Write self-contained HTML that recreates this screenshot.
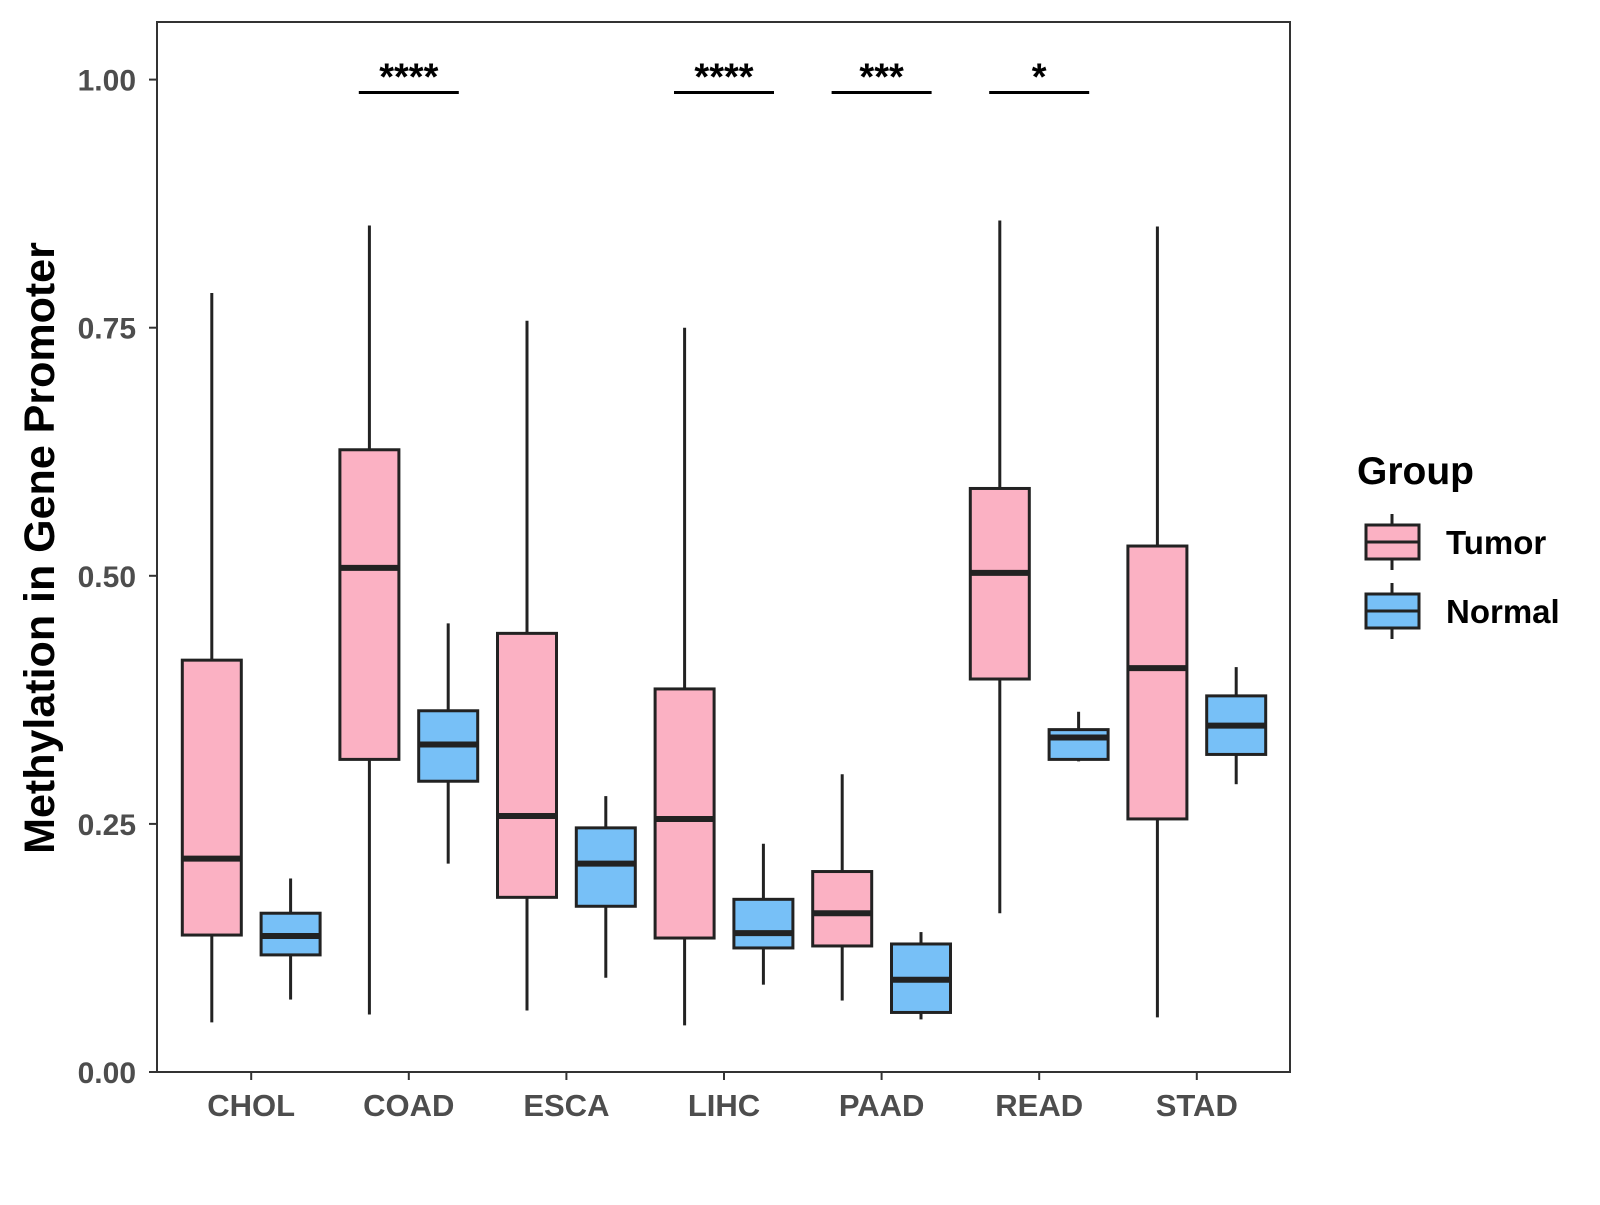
<!DOCTYPE html>
<html><head><meta charset="utf-8"><style>
body{margin:0;background:#fff}
svg text{font-family:"Liberation Sans",Arial,sans-serif;font-weight:bold}
</style></head><body>
<svg id="chart" width="1600" height="1200" xmlns="http://www.w3.org/2000/svg"></svg>
<script>
const categories=["CHOL","COAD","ESCA","LIHC","PAAD","READ","STAD"];
const tumorMin=[0.05,0.058,0.062,0.047,0.072,0.16,0.055];
const tumorQ1=[0.138,0.315,0.176,0.135,0.127,0.396,0.255];
const tumorMed=[0.215,0.508,0.258,0.255,0.16,0.503,0.407];
const tumorQ3=[0.415,0.627,0.442,0.386,0.202,0.588,0.53];
const tumorMax=[0.785,0.853,0.757,0.75,0.3,0.858,0.852];
const normalMin=[0.073,0.21,0.095,0.088,0.053,0.313,0.29];
const normalQ1=[0.118,0.293,0.167,0.125,0.06,0.315,0.32];
const normalMed=[0.137,0.33,0.21,0.14,0.093,0.337,0.349];
const normalQ3=[0.16,0.364,0.246,0.174,0.129,0.345,0.379];
const normalMax=[0.195,0.452,0.278,0.23,0.141,0.363,0.408];
const sigLabels=["","****","","****","***","*",""];
const yTicks=[0,0.25,0.5,0.75,1.0];
const yTickLabels=["0.00","0.25","0.50","0.75","1.00"];

const svg=document.getElementById('chart');
const NS="http://www.w3.org/2000/svg";
const L=157,R=1290,T=22,B=1072;
const y=v=>1072-v*992.4;
const x=i=>251.2+i*157.6;
const off=39.4,bw=59;
function mk(tag,attrs,text){const e=document.createElementNS(NS,tag);for(const k in attrs)e.setAttribute(k,attrs[k]);if(text!==undefined)e.textContent=text;svg.appendChild(e);return e;}

let e=mk('rect',{x:L,y:T,width:R-L,height:B-T,fill:'#fff',stroke:'#333','stroke-width':2});



yTicks.forEach((v,i)=>{
  let t=mk('line',{x1:L-8,x2:L,y1:y(v),y2:y(v),stroke:'#333','stroke-width':2});
  
  
  let l=mk('text',{x:L-21,y:y(v)+11,'text-anchor':'end','font-size':30,fill:'#4d4d4d'},yTickLabels[i]);
  
  
});
categories.forEach((c,i)=>{
  let t=mk('line',{x1:x(i),x2:x(i),y1:B,y2:B+8,stroke:'#333','stroke-width':2});
  
  
  let l=mk('text',{x:x(i),y:B+44,'text-anchor':'middle','font-size':31,fill:'#4d4d4d'},c);
  
  
});
function box(cx,mn,q1,md,q3,mx,fill,name){
  let w1=mk('line',{x1:cx,x2:cx,y1:y(mn),y2:y(q1),stroke:'#222','stroke-width':3});
  
  
  let w2=mk('line',{x1:cx,x2:cx,y1:y(q3),y2:y(mx),stroke:'#222','stroke-width':3});
  
  
  let r=mk('rect',{x:cx-bw/2,y:y(q3),width:bw,height:y(q1)-y(q3),fill:fill,stroke:'#222','stroke-width':3});
  
  
  let m=mk('line',{x1:cx-bw/2,x2:cx+bw/2,y1:y(md),y2:y(md),stroke:'#222','stroke-width':6});
  
  
}
categories.forEach((c,i)=>{
  box(x(i)-off,tumorMin[i],tumorQ1[i],tumorMed[i],tumorQ3[i],tumorMax[i],'#fbb1c3','tumor-'+c.toLowerCase());
  box(x(i)+off,normalMin[i],normalQ1[i],normalMed[i],normalQ3[i],normalMax[i],'#77c0f7','normal-'+c.toLowerCase());
  if(sigLabels[i]){
    let b=mk('line',{x1:x(i)-50,x2:x(i)+50,y1:y(0.987),y2:y(0.987),stroke:'#000','stroke-width':3});
    
    
    let s=mk('text',{x:x(i),y:y(0.987)-3,'text-anchor':'middle','font-size':38,fill:'#000'},sigLabels[i]);
    
    
  }
});
let yt=mk('text',{x:0,y:0,transform:'translate(54,548) rotate(-90)','text-anchor':'middle','font-size':43,fill:'#000'},'Methylation in Gene Promoter');


let lt=mk('text',{x:1357,y:484,'font-size':39,fill:'#000'},'Group');


[['Tumor','#fbb1c3',542],['Normal','#77c0f7',611]].forEach(([n,f,cy])=>{
  let g1=mk('line',{x1:1392,x2:1392,y1:cy-28,y2:cy+28,stroke:'#222','stroke-width':3});
  
  
  let r=mk('rect',{x:1366,y:cy-17,width:53,height:34,fill:f,stroke:'#222','stroke-width':3});
  
  
  let m=mk('line',{x1:1366,x2:1419,y1:cy,y2:cy,stroke:'#222','stroke-width':3});
  
  
  let t=mk('text',{x:1446,y:cy+12,'font-size':33,fill:'#000'},n);
  
  
});
</script>
</body></html>
